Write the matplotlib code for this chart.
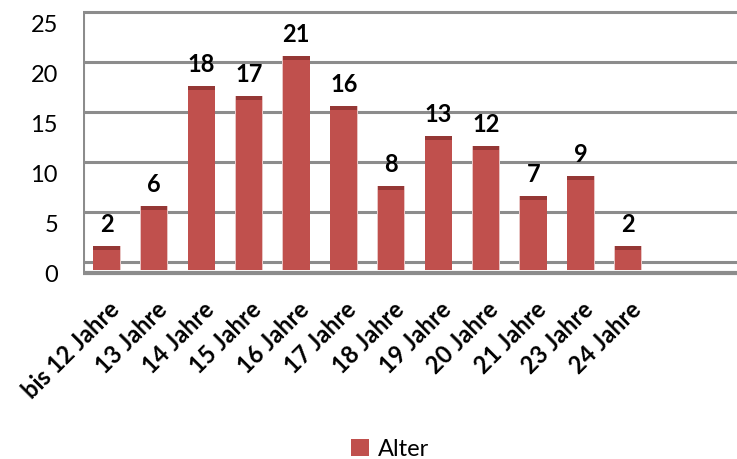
import matplotlib
matplotlib.use("Agg")
import matplotlib.pyplot as plt
from matplotlib.patches import Patch

plt.rcParams['font.family'] = ['Lato', 'DejaVu Sans']

categories = ["bis 12 Jahre", "13 Jahre", "14 Jahre", "15 Jahre", "16 Jahre", "17 Jahre",
              "18 Jahre", "19 Jahre", "20 Jahre", "21 Jahre", "23 Jahre", "24 Jahre"]
values = [2, 6, 18, 17, 21, 16, 8, 13, 12, 7, 9, 2]
y_ticks = [0, 5, 10, 15, 20, 25]
series_name = "Alter"

bar_color = "#C0504D"
cap_color = "#953735"
grid_color = "#8C8C8C"

W, H = 737, 459
fig = plt.figure(figsize=(W / 100, H / 100), dpi=100)
# plot area in pixels: left 83, top 0, bottom 280
ax = fig.add_axes([83 / W, (H - 280) / H, (W - 83) / W, 280 / H])
slot = 47.4
ax.set_xlim(-0.5, -0.5 + (W - 83) / slot)
ax.set_ylim(-1, 27)
ax.axis("off")

depth = 0.8  # back wall sits slightly above the front plane

# back wall gridlines and value axis labels
for v in y_ticks:
    ax.axhline(v + depth, color=grid_color, lw=2.2, zorder=1)
    ax.text(-0.5 - 25 / slot, v - 0.55, str(v), ha="right", va="center",
            fontsize=17, clip_on=False)

# left wall edge and front floor edge
ax.plot([-0.5, -0.5], [-0.3, 25 + depth], color=grid_color, lw=2.2, zorder=1,
        solid_capstyle="butt")
ax.axhline(-0.3, color=grid_color, lw=3, zorder=1)

x = list(range(len(categories)))
# faint light outline around each whole column, then body and darker top face
tops = [v + 0.45 for v in values]
ax.bar(x, tops, width=0.59, color="#E8C4C3", linewidth=0, zorder=2)
ax.bar(x, values, width=0.56, color=bar_color, linewidth=0, zorder=3)
ax.bar(x, [0.45] * len(values), bottom=values, width=0.56, color=cap_color,
       linewidth=0, zorder=3)

for xi, v in zip(x, values):
    ax.text(xi, v + 2.6, str(v), ha="center", va="center", fontsize=17,
            fontweight="bold", zorder=4)

for xi, label in zip(x, categories):
    ax.text(xi + 0.02, -2.75, label, rotation=45, rotation_mode="anchor",
            ha="right", va="top", fontsize=17, fontweight="bold", clip_on=False)

fig.legend(handles=[Patch(facecolor=bar_color, label=series_name)],
           loc="center", bbox_to_anchor=(390 / W, 1 - 449 / H), frameon=False,
           fontsize=17, handlelength=0.75, handleheight=0.75, handletextpad=0.4)

fig.savefig("out.png", dpi=100)
